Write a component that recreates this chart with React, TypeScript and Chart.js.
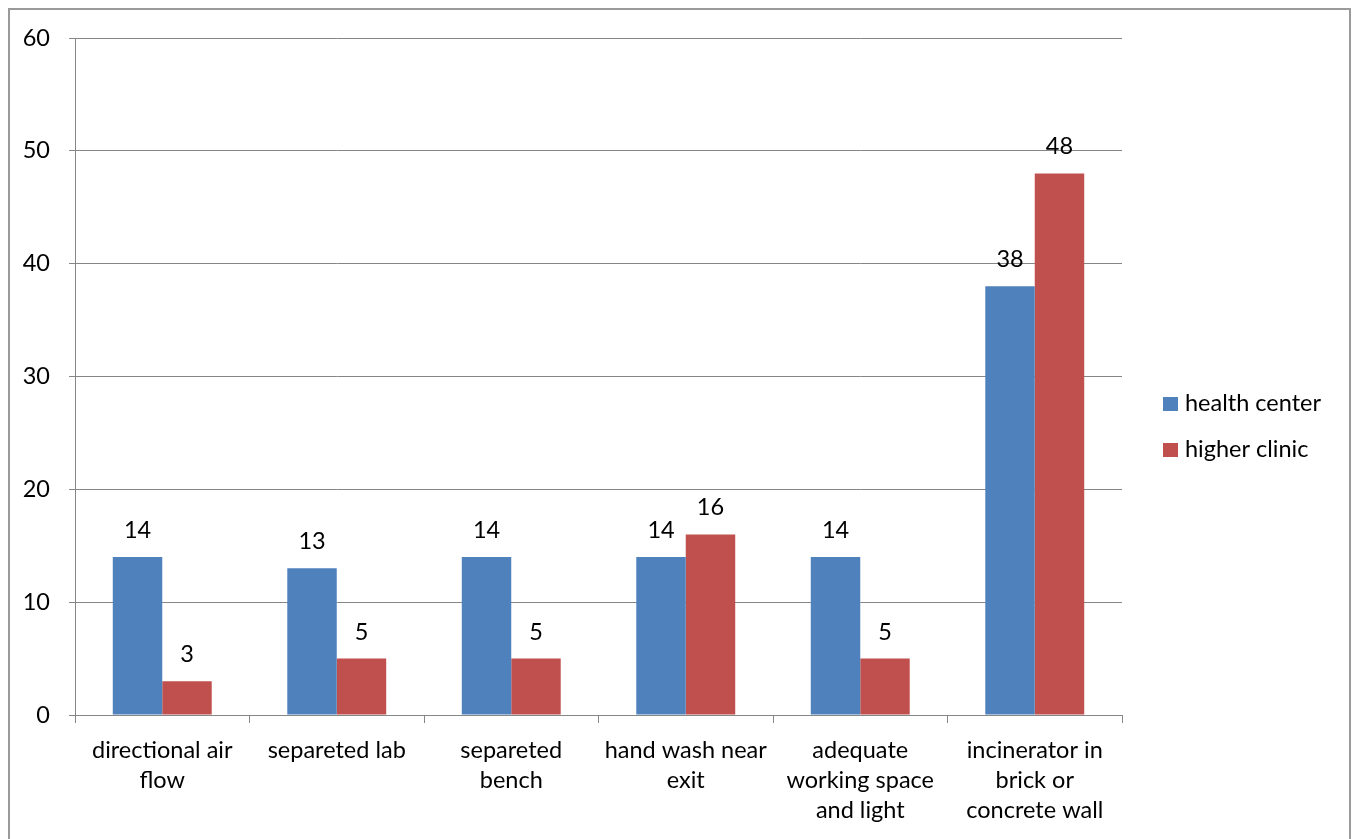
import React, { useEffect, useRef } from "react";
import { Chart, registerables } from "chart.js";

Chart.register(...registerables);

const categories: string[][] = [
  ["directional air", "flow"],
  ["separeted lab"],
  ["separeted", "bench"],
  ["hand wash near", "exit"],
  ["adequate", "working space", "and light"],
  ["incinerator in", "brick or", "concrete wall"],
];
const healthCenter = [14, 13, 14, 14, 14, 38];
const higherClinic = [3, 5, 5, 16, 5, 48];
const seriesNames = ["health center", "higher clinic"];
const seriesColors = ["#4F81BD", "#C0504D"];
const yMax = 60;
const yStep = 10;

const FONT = "Lato, 'Open Sans', sans-serif";
const FONT_SIZE = 23.5;
const GRID = "#868686";

const decorPlugin = {
  id: "decor",
  beforeDraw(chart: any) {
    const ctx = chart.ctx;
    ctx.save();
    ctx.fillStyle = "#ffffff";
    ctx.fillRect(0, 0, chart.width, chart.height);
    ctx.strokeStyle = "#9a9a9a";
    ctx.lineWidth = 2;
    ctx.strokeRect(9, 9, 1341, 900);
    ctx.restore();
  },
  afterDatasetsDraw(chart: any) {
    const ctx = chart.ctx;
    ctx.save();
    ctx.font = `${FONT_SIZE}px ${FONT}`;
    ctx.fillStyle = "#000";
    ctx.textAlign = "center";
    ctx.textBaseline = "alphabetic";
    chart.data.datasets.forEach((ds: any, i: number) => {
      const meta = chart.getDatasetMeta(i);
      meta.data.forEach((bar: any, j: number) => {
        ctx.fillText(String(ds.data[j]), bar.x, bar.y - 19);
      });
    });
    // legend
    ctx.textAlign = "left";
    ctx.textBaseline = "alphabetic";
    chart.data.datasets.forEach((ds: any, i: number) => {
      const y = 397 + i * 46;
      ctx.fillStyle = ds.backgroundColor;
      ctx.fillRect(1163, y, 15, 14);
      ctx.fillStyle = "#000";
      ctx.fillText(ds.label, 1185, y + 14);
    });
    ctx.restore();
  },
};

export default function App() {
  const ref = useRef<HTMLCanvasElement>(null);
  useEffect(() => {
    if (!ref.current) return;
    const chart = new Chart(ref.current, {
      type: "bar",
      data: {
        labels: categories,
        datasets: [
          { label: seriesNames[0], data: healthCenter, backgroundColor: seriesColors[0] },
          { label: seriesNames[1], data: higherClinic, backgroundColor: seriesColors[1] },
        ],
      },
      options: {
        animation: false,
        responsive: false,
        maintainAspectRatio: false,
        layout: { padding: { top: 38, right: 235, left: 0, bottom: 0 } },
        datasets: { bar: { categoryPercentage: 0.567, barPercentage: 1 } },
        plugins: { legend: { display: false }, tooltip: { enabled: false } },
        scales: {
          x: {
            grid: { offset: true, drawOnChartArea: false, drawTicks: true, tickLength: 8, color: GRID },
            border: { display: true, color: GRID },
            ticks: {
              color: "#000",
              font: { family: FONT, size: FONT_SIZE, lineHeight: 30 / FONT_SIZE },
              padding: 12,
              maxRotation: 0,
              autoSkip: false,
            },
            afterFit: (s: any) => { s.height = 839 - 715; },
          },
          y: {
            min: 0,
            max: yMax,
            ticks: { stepSize: yStep, color: "#000", font: { family: FONT, size: FONT_SIZE }, padding: 19 },
            grid: { color: GRID, tickLength: 6, drawTicks: true },
            border: { display: true, color: GRID },
            afterFit: (s: any) => { s.width = 75; },
          },
        },
      },
      plugins: [decorPlugin],
    });
    return () => chart.destroy();
  }, []);
  return (
    <div style={{ position: "fixed", left: 0, top: 0, width: 1357, height: 839, background: "#fff" }}>
      <canvas ref={ref} width={1357} height={839} style={{ display: "block" }} />
    </div>
  );
}
